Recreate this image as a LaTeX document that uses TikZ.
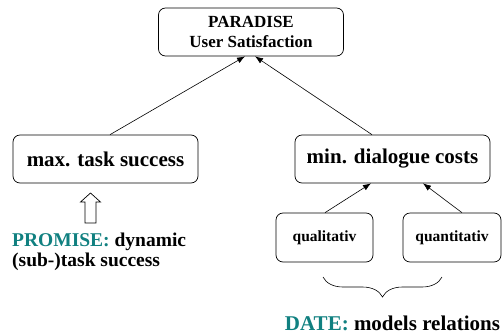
\documentclass[tikz,border=0pt]{standalone}
\usepackage{fontspec}
\setmainfont{Liberation Serif}
\usetikzlibrary{arrows.meta,decorations.pathreplacing}
\definecolor{tealtext}{RGB}{16,128,128}
\tikzset{
  box/.style={draw, rounded corners=7pt, line width=0.7pt, inner sep=0pt},
  link/.style={-{Latex[length=8pt,width=6pt]}, line width=0.6pt},
  big/.style={font=\bfseries\fontsize{21}{24}\selectfont},
  small/.style={font=\bfseries\fontsize{15.5}{18}\selectfont},
}
\begin{document}
\begin{tikzpicture}[x=1pt,y=-1pt]
\useasboundingbox (0,0) rectangle (503,335);
% goal hierarchy
\node[box, minimum width=185pt, minimum height=48pt, align=center,
      font=\bfseries\fontsize{17}{20}\selectfont]
  (top) at (251,32) {PARADISE\\User Satisfaction};
\node[box, big, minimum width=185pt, minimum height=48pt] (task) at (105.5,159) {max. task success};
\node[box, big, minimum width=195pt, minimum height=48pt] (cost) at (392.5,159) {min. dialogue costs};
\node[box, small, minimum width=97pt, minimum height=49pt] (qual) at (324.5,237.5) {qualitativ};
\node[box, small, minimum width=98pt, minimum height=49pt] (quant) at (452,237.5) {quantitativ};
% connectors
\draw[link] (task.north -| 110,0) -- (top.south -| 245,0);
\draw[link] (cost.north -| 372,0) -- (top.south -| 255,0);
\draw[link] (qual.north -| 325,0) -- (cost.south -| 371,0);
\draw[link] (quant.north -| 462,0) -- (cost.south -| 423,0);
% PROMISE label with hollow arrow pointing up to the task box
\node[font=\bfseries\fontsize{19.5}{20}\selectfont, anchor=base west, align=left, inner sep=0pt]
  (promise) at (12,266) {\textcolor{tealtext}{PROMISE:} dynamic\\(sub-)task success};
\coordinate (tip) at (90.5,193);
\draw[line width=0.7pt, fill=white]
  (tip) -- ++(10,9) -- ++(-4.5,0) -- ++(0,21) -- ++(-11,0) -- ++(0,-21) -- ++(-4.5,0) -- cycle;
% brace and DATE label
\coordinate (bl) at (323,277);
\coordinate (br) at (442,277);
\draw[line width=0.6pt, decorate, decoration={brace, amplitude=20pt, aspect=0.5, mirror}] (bl) -- (br);
\node[big, anchor=base, inner sep=0pt] (date) at (392.5,330.5) {\textcolor{tealtext}{DATE:} models relations};
\end{tikzpicture}
\end{document}
